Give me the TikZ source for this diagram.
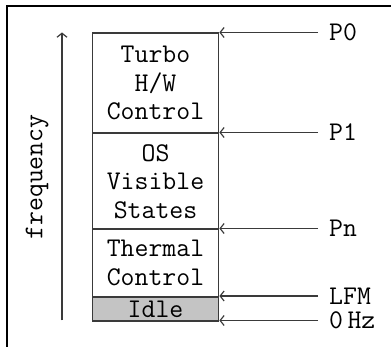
\documentclass[tikz,border=0pt]{standalone}
\usepackage{fontspec}
\usetikzlibrary{arrows.meta}
\definecolor{linegray}{HTML}{3A3A3A}
\definecolor{idlegray}{HTML}{C4C4C4}
\begin{document}
\begin{tikzpicture}[x=1pt,y=-1pt,
  every node/.style={font=\fontsize{27}{28.5}\selectfont\ttfamily, text=black},
  region/.style={draw=linegray, line width=1.7pt, minimum width=126pt, inner sep=0pt, align=center, anchor=north},
  lvl/.style={anchor=west, inner xsep=11pt, inner ysep=0pt},
  levelarrow/.style={draw=linegray, line width=1.5pt, -{Straight Barb[length=4pt,width=10pt,line width=1.2pt]}},
]
\useasboundingbox (0,0) rectangle (391,347);
\draw[black, line width=1.5pt] (7,347) -- (7,6) -- (391,6);
% column of regions
\node[region, minimum height=100pt] (turbo) at (155.5,32.5) {Turbo\\H/W\\Control};
\node[region, minimum height=96pt] (os) at (155.5,132.5) {OS\\Visible\\States};
\node[region, minimum height=67.5pt] (thermal) at (155.5,228.5) {Thermal\\Control};
\node[region, minimum height=24.5pt, fill=idlegray] (idle) at (155.5,296) {Idle};
% level labels
\node[lvl] (p0) at (318,32.5) {P0};
\node[lvl] (p1) at (318,132.5) {P1};
\node[lvl] (pn) at (318,228.5) {Pn};
\node[lvl] (lfm) at (318,296) {LFM};
\node[lvl] (hz) at (318,320.5) {0\,Hz};
\draw[levelarrow] (p0.west) -- (p0.west -| turbo.east);
\draw[levelarrow] (p1.west) -- (p1.west -| os.east);
\draw[levelarrow] (pn.west) -- (pn.west -| thermal.east);
\draw[levelarrow] (lfm.west) -- (lfm.west -| idle.east);
\draw[levelarrow] (hz.west) -- (hz.west -| idle.east);
% frequency axis
\coordinate (fbot) at (62,320.5);
\coordinate (ftop) at (62,32.5);
\draw[levelarrow] (fbot) -- (ftop);
\node[rotate=90] (freq) at (37,177) {frequency};
\end{tikzpicture}
\end{document}
